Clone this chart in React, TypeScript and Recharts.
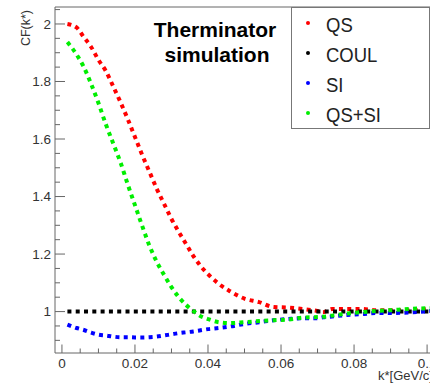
import React from 'react';
import { LineChart, Line, XAxis, YAxis, ReferenceLine, Legend, Label } from 'recharts';

// k* values (GeV/c)
const K = [0.0015, 0.004, 0.006, 0.008, 0.010, 0.012, 0.014, 0.016, 0.018, 0.020, 0.022, 0.024, 0.026, 0.028, 0.030, 0.032, 0.034, 0.036, 0.038, 0.040, 0.043, 0.046, 0.050, 0.054, 0.058, 0.062, 0.066, 0.070, 0.0715, 0.074, 0.078, 0.082, 0.086, 0.090, 0.095, 0.1008];
const QS = [2.000, 1.988, 1.954, 1.920, 1.875, 1.837, 1.784, 1.729, 1.670, 1.607, 1.544, 1.485, 1.426, 1.374, 1.322, 1.277, 1.235, 1.193, 1.158, 1.130, 1.096, 1.071, 1.045, 1.033, 1.016, 1.014, 1.009, 1.002, 0.998, 1.009, 1.009, 1.009, 1.005, 1.005, 1.005, 1.009];
const COUL = [1, 1, 1, 1, 1, 1, 1, 1, 1, 1, 1, 1, 1, 1, 1, 1, 1, 1, 1, 1, 1, 1, 1, 1, 1, 1, 1, 1, 1, 1, 1, 1, 1, 1, 1, 1];
const SI = [0.955, 0.943, 0.936, 0.927, 0.920, 0.917, 0.913, 0.911, 0.911, 0.910, 0.910, 0.911, 0.913, 0.917, 0.921, 0.925, 0.928, 0.931, 0.935, 0.939, 0.943, 0.948, 0.957, 0.963, 0.970, 0.974, 0.977, 0.977, 0.980, 0.983, 0.988, 0.991, 0.995, 0.995, 0.997, 1.002];
const QS_SI = [1.937, 1.894, 1.850, 1.791, 1.725, 1.652, 1.586, 1.520, 1.443, 1.370, 1.297, 1.228, 1.172, 1.127, 1.085, 1.050, 1.023, 1.002, 0.984, 0.974, 0.963, 0.960, 0.963, 0.967, 0.970, 0.972, 0.979, 0.981, 0.982, 0.986, 0.993, 0.998, 1.002, 1.005, 1.009, 1.012];

const X_TICKS = [0, 0.005, 0.01, 0.015, 0.02, 0.025, 0.03, 0.035, 0.04, 0.045, 0.05, 0.055, 0.06, 0.065, 0.07, 0.075, 0.08, 0.085, 0.09, 0.095, 0.1];
const Y_TICKS = [0.9, 0.95, 1, 1.05, 1.1, 1.15, 1.2, 1.25, 1.3, 1.35, 1.4, 1.45, 1.5, 1.55, 1.6, 1.65, 1.7, 1.75, 1.8, 1.85, 1.9, 1.95, 2, 2.05];
const X_DOMAIN: [number, number] = [-0.0019, 0.1008];
const Y_DOMAIN: [number, number] = [0.856, 2.059];

const SERIES = [
  { key: 'qs', name: 'QS', color: '#ff0000' },
  { key: 'coul', name: 'COUL', color: '#000000' },
  { key: 'si', name: 'SI', color: '#0000ff' },
  { key: 'qssi', name: 'QS+SI', color: '#00ee00' },
];
const LEGEND_ORDER = SERIES.map((s) => s.name);

const data = K.map((k, i) => ({ k, qs: QS[i], coul: COUL[i], si: SI[i], qssi: QS_SI[i] }));

const AXIS = '#666666';
const TEXT = '#333333';
const FONT = '"Liberation Sans", Arial, Helvetica, sans-serif';

const fmt = (v: number) => String(Number(v.toFixed(3)));

function YTick(props: any) {
  const { x, y, payload } = props;
  const v = payload.value as number;
  const major = Math.abs(v * 5 - Math.round(v * 5)) < 1e-6;
  return (
    <g>
      <line x1={x} x2={x + (major ? 10 : 5)} y1={y} y2={y} stroke={AXIS} strokeWidth={1} />
      {major && (
        <text x={x - 4} y={y + 4.8} textAnchor="end" fontSize={13.5} fill={TEXT} fontFamily={FONT}>
          {fmt(v)}
        </text>
      )}
    </g>
  );
}

function XTick(props: any) {
  const { x, y, payload } = props;
  const v = payload.value as number;
  const major = Math.abs(v * 50 - Math.round(v * 50)) < 1e-6;
  return (
    <g>
      <line x1={x} x2={x} y1={y} y2={y - (major ? 8.5 : 4.5)} stroke={AXIS} strokeWidth={1} />
      {major && (
        <text x={x} y={y + 14.5} textAnchor="middle" fontSize={13.5} fill={TEXT} fontFamily={FONT}>
          {fmt(v)}
        </text>
      )}
    </g>
  );
}

function YTitle(props: any) {
  const vb = props.viewBox || { x: 0, y: 7, width: 55, height: 346 };
  const x = vb.x + 30;
  const y = vb.y + 3;
  return (
    <text transform={`translate(${x},${y}) rotate(-90)`} textAnchor="end" fontSize={12.5} fill={TEXT} fontFamily={FONT}>
      CF(k*)
    </text>
  );
}

function XTitle(props: any) {
  const vb = props.viewBox || { x: 55, y: 353, width: 375, height: 31 };
  const x = vb.x + vb.width - 52;
  const y = vb.y + 26.5;
  return (
    <text x={x} y={y} textAnchor="start" fontSize={13} fill={TEXT} fontFamily={FONT}>
      k*[GeV/c]
    </text>
  );
}

function LegendBox(props: any) {
  const payload = ([...(props.payload || [])] as any[]).sort(
    (a, b) => LEGEND_ORDER.indexOf(a.value) - LEGEND_ORDER.indexOf(b.value)
  );
  return (
    <div style={{ width: 139, height: 122, boxSizing: 'border-box', border: '1px solid #777', background: '#fff' }}>
      <svg width={137} height={120} style={{ display: 'block' }}>
        {payload.map((p, i) => (
          <g key={p.value}>
            <circle cx={16} cy={15 + i * 30} r={2} fill={p.color} />
            <text
              transform={`translate(34,${24 + i * 30}) scale(1,1.13)`}
              fontSize={18.5}
              fill="#222"
              fontFamily={FONT}
            >
              {p.value}
            </text>
          </g>
        ))}
      </svg>
    </div>
  );
}

export default function App() {
  return (
    <div style={{ position: 'absolute', left: 0, top: 0, width: 430, height: 384, background: '#fff' }}>
      <LineChart width={430} height={384} data={data} margin={{ top: 7, right: 0, bottom: 0, left: 0 }}>
        <XAxis
          dataKey="k"
          type="number"
          domain={X_DOMAIN}
          ticks={X_TICKS}
          interval={0}
          allowDataOverflow
          height={31}
          tickLine={false}
          tickSize={0}
          tickMargin={0}
          tick={<XTick />}
          axisLine={{ stroke: AXIS, strokeWidth: 1 }}
        >
          <Label content={<XTitle />} />
        </XAxis>
        <YAxis
          type="number"
          domain={Y_DOMAIN}
          ticks={Y_TICKS}
          interval={0}
          allowDataOverflow
          width={55}
          tickLine={false}
          tickSize={0}
          tickMargin={0}
          tick={<YTick />}
          axisLine={{ stroke: AXIS, strokeWidth: 1 }}
        >
          <Label content={<YTitle />} />
        </YAxis>
        <ReferenceLine y={Y_DOMAIN[1]} stroke={AXIS} strokeWidth={1} ifOverflow="extendDomain" />
        <Legend
          layout="horizontal"
          verticalAlign="middle"
          align="center"
          content={<LegendBox />}
          wrapperStyle={{ position: 'absolute', left: 291, top: 7, width: 139, height: 122, margin: 0 }}
        />
        {SERIES.map((s) => (
          <Line
            key={s.key}
            dataKey={s.key}
            name={s.name}
            stroke={s.color}
            strokeWidth={4}
            strokeDasharray="4 4.3"
            type="monotone"
            dot={false}
            activeDot={false}
            legendType="circle"
            isAnimationActive={false}
          />
        ))}
      </LineChart>
      <svg width={430} height={384} style={{ position: 'absolute', left: 0, top: 0, pointerEvents: 'none' }}>
        <text x={215} y={36.7} textAnchor="middle" fontSize={21} fontWeight="bold" fill="#000" fontFamily={FONT}>
          Therminator
        </text>
        <text x={217} y={61.7} textAnchor="middle" fontSize={21} fontWeight="bold" fill="#000" fontFamily={FONT}>
          simulation
        </text>
      </svg>
    </div>
  );
}
